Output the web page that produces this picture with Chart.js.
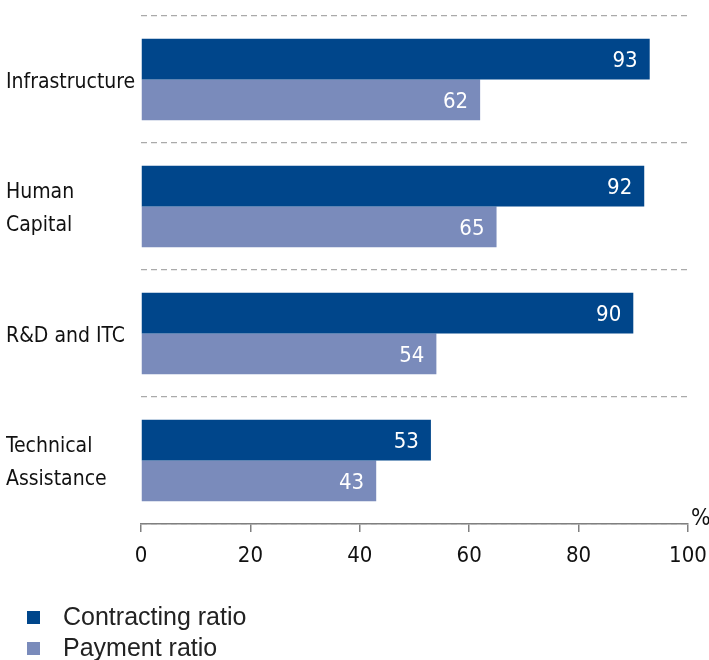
<!DOCTYPE html>
<html>
<head>
<meta charset="utf-8">
<script src="https://cdn.jsdelivr.net/npm/chart.js@4"></script>
<style>
    html, body { margin: 0; padding: 0; background: #fff; }
    #wrap { width: 709px; height: 660px; }
</style>
</head>
<body>
<div id="wrap"><canvas id="ratioChart" width="709" height="660"></canvas></div>
<script>
        // Data
        const categories = [
            'Infrastructure',
            ['Human', 'Capital'],
            'R&D and ITC',
            ['Technical', 'Assistance']
        ];
        const contractingRatio = [93, 92, 90, 53];
        const paymentRatio = [62, 65, 54, 43];
        const xTicks = [0, 20, 40, 60, 80, 100];

        const NARROW = '"DejaVu Sans Condensed", "Liberation Sans Narrow", "Arial Narrow", sans-serif';
        const DARK = '#00468b';
        const LIGHT = '#7a8bbb';

        // Value labels inside the bar ends
        const valueLabels = {
            id: 'valueLabels',
            afterDatasetsDraw(chart) {
                const ctx = chart.ctx;
                ctx.save();
                ctx.fillStyle = '#fff';
                ctx.font = '22px ' + NARROW;
                ctx.textAlign = 'right';
                ctx.textBaseline = 'middle';
                chart.data.datasets.forEach((ds, i) => {
                    chart.getDatasetMeta(i).data.forEach((bar, j) => {
                        ctx.fillText(ds.data[j], bar.x - 12, bar.y + 2);
                    });
                });
                ctx.restore();
            }
        };

        // "%" unit at the end of the axis, plus the legend underneath
        const extras = {
            id: 'extras',
            afterDraw(chart) {
                const ctx = chart.ctx;
                const area = chart.chartArea;
                ctx.save();
                ctx.fillStyle = '#111';
                ctx.font = '23px ' + NARROW;
                ctx.textAlign = 'left';
                ctx.textBaseline = 'alphabetic';
                ctx.fillText('%', area.right + 3, area.bottom + 1);

                ctx.font = '25px "Liberation Sans", Arial, sans-serif';
                ctx.textBaseline = 'middle';
                chart.data.datasets.forEach((ds, i) => {
                    const y = 617 + i * 31;
                    ctx.fillStyle = ds.backgroundColor;
                    ctx.fillRect(27, y - 6, 13, 13);
                    ctx.fillStyle = '#222';
                    ctx.fillText(ds.label, 63, y + 1);
                });
                ctx.restore();
            }
        };

        new Chart(document.getElementById('ratioChart'), {
            type: 'bar',
            data: {
                labels: categories,
                datasets: [{
                    label: 'Contracting ratio',
                    data: contractingRatio,
                    backgroundColor: DARK,
                    categoryPercentage: 0.64,
                    barPercentage: 1.0
                }, {
                    label: 'Payment ratio',
                    data: paymentRatio,
                    backgroundColor: LIGHT,
                    categoryPercentage: 0.64,
                    barPercentage: 1.0
                }]
            },
            options: {
                indexAxis: 'y',
                responsive: false,
                animation: false,
                layout: {
                    padding: { left: 6, right: 21, top: 16, bottom: 76 }
                },
                plugins: {
                    legend: { display: false },
                    tooltip: { enabled: false }
                },
                scales: {
                    x: {
                        min: 0,
                        max: 100,
                        afterBuildTicks(scale) {
                            scale.ticks = xTicks.map(v => ({ value: v }));
                        },
                        afterFit(scale) {
                            scale.height = 60;
                            scale.paddingLeft = 0;
                            scale.paddingRight = 0;
                        },
                        border: { display: true, color: '#808080', width: 1.5 },
                        grid: {
                            drawOnChartArea: false,
                            drawTicks: true,
                            tickLength: 8,
                            color: '#808080',
                            lineWidth: 1.5
                        },
                        ticks: {
                            color: '#111',
                            padding: 11,
                            maxRotation: 0,
                            font: { family: NARROW, size: 22 }
                        }
                    },
                    y: {
                        afterFit(scale) {
                            scale.width = 135;
                            scale.paddingTop = 0;
                            scale.paddingBottom = 0;
                        },
                        border: { display: false },
                        grid: {
                            offset: true,
                            drawTicks: false,
                            color: ctx => ctx.index === categories.length ? 'rgba(0,0,0,0)' : '#aaa',
                            lineWidth: 1.2
                        },
                        ticks: {
                            color: '#111',
                            crossAlign: 'far',
                            padding: 0,
                            labelOffset: 3,
                            font: { family: NARROW, size: 21, lineHeight: 1.57 }
                        }
                    }
                }
            },
            plugins: [valueLabels, extras]
        });

        // Dashed separators between categories
        const chart = Chart.getChart('ratioChart');
        chart.options.scales.y.border.dash = [6, 4];
        chart.options.scales.y.grid.borderDash = [6, 4];
        chart.update();
</script>
</body>
</html>
